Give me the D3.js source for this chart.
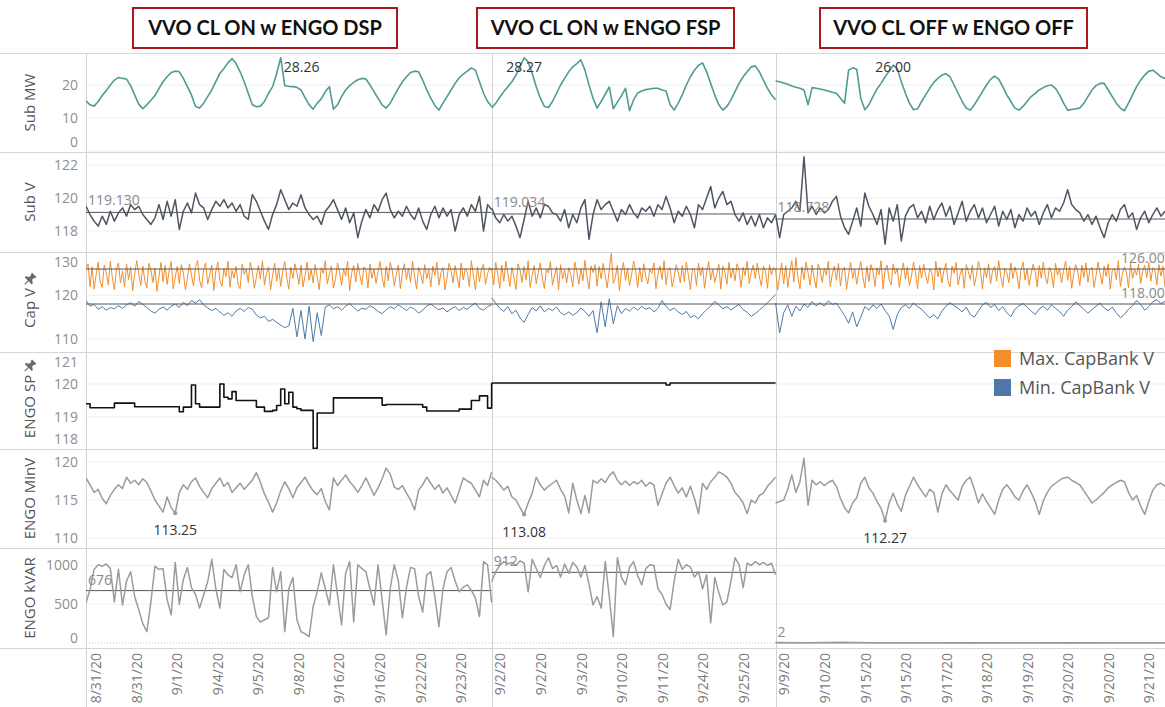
<!DOCTYPE html>
<html><head><meta charset="utf-8">
<script src="https://cdn.jsdelivr.net/npm/d3@7"></script>
<style>body{margin:0;background:#fff;}svg{display:block;font-family:"Open Sans",sans-serif;}</style>
</head><body><svg id="c" width="1165" height="707"></svg>
<script>
// ---------------- DATA ----------------
const sectionTitles = ["VVO CL ON w ENGO DSP", "VVO CL ON w ENGO FSP", "VVO CL OFF w ENGO OFF"];
const sectionLengths = [100, 70, 96];
const xTickLabels = [
  ["8/31/20","8/31/20","9/1/20","9/4/20","9/5/20","9/8/20","9/16/20","9/16/20","9/22/20","9/23/20"],
  ["9/2/20","9/2/20","9/3/20","9/10/20","9/11/20","9/24/20","9/25/20"],
  ["9/9/20","9/10/20","9/15/20","9/15/20","9/17/20","9/18/20","9/19/20","9/20/20","9/20/20","9/21/20"]
];
const xTickFirst = [2.5, 2.2, 2.2];
const xTickStep = 10;

const subMW = [
 [15.2,14,13.6,15,16.8,18.3,20,21.5,22.3,22,21.8,19.8,17,14.2,12.8,14,15.4,16.8,19,21,22.5,23.8,24.2,24,22,19.5,17,13.5,13,14.5,16.5,18.5,21,23.5,25,26.7,28,26.5,24,21,17.5,14,13.4,13.6,15,17.5,19.5,23.5,28.26,19.8,19.6,19.5,19.3,18.5,16.2,14,12.7,14.5,15.8,18,19.5,12.7,14,16.5,18.5,19.8,20.8,21.6,22,21.8,20,18,16,14,13,14.5,16.8,19,21,22.5,23.8,24.2,24,21.5,18.5,16,13.8,12.4,14.5,16.5,18.5,20.5,22.2,23.3,24.2,25.2,24.5,21,17.5,15,13.5],
 [13,14.5,16.3,18,19.5,21,23,25.5,28.27,27,23.5,19.5,16,13.5,13.2,15,17.5,20,22,24,25.5,26.5,27.6,24.5,20,16,13,15,17.2,19.4,12.8,14.8,16.8,19,12.2,15.5,17.6,18.2,18.6,18.8,19,19,18.5,18.2,14,12.4,14.5,17,20,22.5,24.5,26,26.7,24,20.5,17,14,12.4,13.5,15.5,18,20.5,22.5,24,25.5,25.8,24,21.5,19,17,15.5],
 [21.2,21,20.6,20.2,19.7,19.3,19,18.5,14,19.2,19,18.8,18.5,18.2,17.8,17.5,16,14.5,24.5,25.2,24.8,16,12.5,14,16.5,18.8,20.5,22.5,24.2,26,25,21,17.5,14.5,12.5,12.8,15,17,19,20.8,22,23,23.4,22.5,20,17.5,15,13,12.4,14,16,18,20,21.7,22.7,21.8,19.5,17,15,13,12.4,13.5,15,16.5,17.5,18.5,19.2,19.8,20,19,17,14.5,12.4,12.6,12.8,13,14.5,16.5,18.5,19.8,20.5,20.5,18.5,16.5,14.5,13,12.2,14.5,17,19.5,21.5,23,24.2,24.5,23.5,22.5,22]
];
const subV = [
 [119.5,119.0,118.6,118.3,118.9,118.4,119.2,118.6,119.1,119.4,118.9,119.6,119.3,119.5,119.0,118.7,118.4,118.8,119.6,118.7,119.8,118.9,119.9,118.1,119.2,119.7,119.1,120.3,119.6,119.4,118.7,119.3,119.8,119.5,119.9,119.4,119.7,119.2,119.6,118.9,118.7,120.2,119.8,119.2,118.6,118.1,119.0,119.6,120.5,119.9,119.3,119.7,119.5,120.2,119.4,119.0,118.7,118.9,118.4,119.2,119.5,119.9,119.3,118.7,119.4,118.5,119.1,117.6,118.6,119.3,118.8,119.6,119.2,119.9,120.3,119.3,118.8,119.2,118.9,119.5,119.0,118.7,119.4,118.6,118.1,119.0,119.5,118.8,119.4,118.9,119.3,118.0,119.0,119.4,118.9,119.6,119.2,120.1,118.0,119.6,119.3],
 [119.4,118.8,118.5,119.0,118.6,118.9,118.3,117.6,118.7,119.8,118.9,119.4,118.8,119.6,119.5,119.1,119.0,118.6,119.3,118.2,119.0,118.5,119.4,119.9,117.5,119.0,119.9,119.3,119.6,119.8,119.2,118.6,119.3,119.0,119.6,119.1,118.8,119.4,119.2,119.5,118.9,119.6,119.3,120.1,119.4,118.5,119.2,118.9,119.5,119.0,118.2,119.6,119.3,120.0,120.7,119.4,120.0,120.4,119.6,119.8,119.0,118.6,119.1,118.4,118.9,118.3,119.0,118.2,118.8,118.5,119.0],
 [119.0,117.6,119.0,119.2,119.4,119.8,119.2,122.5,119.1,119.5,119.0,119.4,119.1,119.3,119.8,120.1,118.9,118.2,117.8,118.6,119.4,118.3,120.3,119.5,119.0,118.4,119.3,117.2,119.4,118.6,119.6,117.4,118.9,119.4,119.6,118.8,119.2,118.5,119.5,118.7,119.3,119.7,118.9,119.5,118.4,119.1,119.8,118.6,119.2,119.6,118.8,119.4,118.5,119.0,119.5,118.3,119.2,118.7,119.3,118.2,119.0,118.6,119.4,118.9,119.2,118.4,119.1,119.6,118.8,119.4,119.2,119.7,120.5,119.6,119.3,119.1,118.6,119.0,118.4,118.9,118.2,117.6,118.5,119.0,118.6,119.3,119.6,118.8,119.1,118.1,118.8,119.2,118.5,119.0,119.4,118.9,119.2]
];
const subVRef = [119.130, 119.034, 118.728];

const capMax = [
 [125.8,127.2,122.0,126.5,121.4,124.8,127.6,123.0,121.8,126.9,125.2,122.4,127.8,124.0,121.2,126.0,127.4,122.8,125.5,121.9,
  127.1,123.6,126.4,121.0,124.9,127.9,125.0,122.2,126.7,123.4,121.6,127.3,125.8,122.9,126.2,120.9,124.4,127.5,123.1,126.8,
  122.5,125.6,127.7,121.5,124.2,126.6,122.7,127.0,125.1,121.3,123.8,127.2,124.6,122.1,126.3,128.0,123.5,121.7,125.9,127.4,
  122.6,124.7,126.9,121.1,125.4,127.6,123.3,122.0,126.1,124.3,127.8,121.8,125.7,123.9,126.6,122.4,121.5,127.1,124.8,126.0,
  122.9,127.5,125.3,121.6,124.1,126.8,123.7,127.9,122.3,125.0,126.5,121.2,124.6,127.3,123.2,126.2,122.0,125.6,127.7,124.0,
  121.4,126.4,123.8,127.2,125.1,122.5,126.9,121.9,124.5,127.6,123.4,125.9,122.8,127.0,124.2,121.3,126.3,125.0,127.9,122.6,
  124.9,126.7,121.7,123.6,127.4,125.5,122.2,126.1,124.4,127.8,121.0,125.2,126.8,123.0,127.3,124.7,122.4,126.5,125.8,121.6,
  127.1,123.9,126.0,122.7,125.4,127.7,124.1,121.8,126.6,123.3,127.5,125.7,122.1,124.8,126.9,121.5,125.3,127.2,123.6,126.2,
  122.9,127.8,124.3,121.4,126.4,125.0,122.6,127.0,123.8,125.9,121.9,126.7,124.6,127.6,122.3,125.1,126.3,121.2,124.0,127.3,
  125.6,122.8,126.8,124.2,121.7,127.4,123.5,126.1,125.2,122.0,127.9,124.5,121.3,126.5,123.1,125.8,127.1,122.5,124.9,126.4,125.5],
 [126.2,122.4,127.5,124.8,121.6,126.9,123.2,127.8,125.0,122.0,126.4,124.1,121.3,127.2,125.7,122.9,126.6,123.5,127.9,121.8,
  124.6,126.8,122.6,125.3,127.4,123.9,121.5,126.0,125.1,127.7,122.3,124.4,126.5,121.2,127.0,123.7,125.8,122.8,126.3,124.9,
  121.9,127.6,125.4,122.5,126.1,123.3,128.0,124.2,121.4,126.7,125.2,127.0,122.1,126.6,123.8,127.3,124.5,121.7,125.9,129.6,
  122.7,124.0,126.9,121.1,125.5,127.5,123.4,126.2,122.2,124.7,127.8,125.6,121.8,126.4,123.0,127.2,124.3,122.6,126.0,125.0,
  127.4,121.5,124.8,126.7,123.6,127.9,122.4,125.7,126.3,121.9,124.1,127.0,125.3,122.8,126.8,123.1,127.6,124.6,121.3,126.1,
  125.8,122.2,127.3,124.4,126.5,121.6,125.1,127.7,123.5,126.0,122.9,124.9,127.1,121.4,126.6,125.4,122.5,127.5,124.0,126.2,
  123.3,127.2,125.6,121.8,126.4,124.5,127.8,122.7,125.2,126.9,123.8,127.4,124.2,122.1,126.7,125.5,121.6,127.0,124.7,126.3,125.9],
 [126.0,121.2,124.5,127.4,122.6,126.8,121.8,125.3,127.9,123.0,128.6,124.1,121.5,126.5,123.6,127.6,125.2,122.3,126.9,124.0,
  121.6,127.1,125.7,122.9,126.2,124.6,127.8,121.9,125.0,126.7,123.4,127.3,122.1,125.6,126.4,121.3,124.8,127.5,123.8,126.0,
  122.5,125.4,127.7,124.3,121.7,126.6,123.1,127.0,125.5,122.0,126.3,124.7,127.9,121.4,125.8,126.9,123.5,122.4,127.2,124.9,
  126.1,121.8,125.2,127.4,123.7,126.5,122.2,124.4,127.6,125.1,121.5,126.8,123.9,127.1,124.6,122.7,126.0,125.3,121.2,127.8,
  124.2,126.4,122.8,125.7,127.3,123.3,121.9,126.7,125.0,127.5,122.4,124.8,126.2,121.6,127.0,125.5,123.6,126.9,122.1,124.5,
  127.7,125.9,121.4,126.3,124.0,127.2,122.6,125.6,126.6,123.2,127.9,124.4,121.8,126.1,125.2,122.9,127.4,123.8,126.5,124.7,
  121.5,125.8,127.6,123.5,126.0,122.3,124.9,127.1,125.4,121.9,126.8,123.9,127.5,124.2,122.6,126.4,125.1,121.7,127.3,124.6,
  126.2,122.8,125.7,127.8,123.4,126.6,121.6,124.8,127.0,125.3,122.2,126.9,124.1,127.4,123.0,125.9,126.4,121.8,124.5,127.6,
  125.0,122.5,126.7,124.3,127.2,121.4,125.6,126.1,123.6,127.9,122.0,124.9,126.5,125.2,121.7,127.3,123.8,126.0,124.6,127.1,
  122.7,125.5,126.8,124.0,127.5,123.2,126.3,125.8,122.4,127.0,124.4,126.6,121.9]
];
const capMin = [
 [118.8,117.5,117.9,116.8,117.4,116.6,117.2,116.9,117.6,117.0,117.8,118.3,117.5,118.6,117.9,117.2,116.4,115.9,116.8,117.3,116.6,117.5,118.0,117.2,118.4,117.6,118.8,118.2,119.0,117.8,117.1,116.5,117.0,116.2,115.4,116.0,115.2,116.4,117.0,116.3,117.2,116.8,115.5,114.8,115.2,114.0,114.5,113.8,113.2,112.6,113.0,117.0,110.5,116.5,110.0,117.5,109.4,116.0,110.8,117.3,117.8,116.9,117.4,116.6,117.5,118.1,117.2,116.4,117.0,116.8,117.6,117.1,116.3,115.8,116.7,117.4,116.9,117.8,117.2,116.5,117.3,116.8,115.9,116.6,117.5,118.0,117.3,116.7,117.1,116.2,116.9,117.4,116.5,117.2,116.8,117.6,118.2,117.0,116.6,117.4,117.8],
 [119.4,118.2,117.0,116.3,117.4,115.8,116.6,114.8,113.8,115.6,117.2,116.4,117.6,116.2,117.0,116.5,117.3,116.0,115.5,116.2,115.4,116.0,117.1,116.3,115.2,116.5,111.4,118.5,112.8,119.2,113.5,117.6,115.8,117.0,116.4,117.3,116.6,117.5,116.8,117.2,116.2,117.0,118.8,117.4,116.5,117.1,116.2,115.6,116.3,114.9,115.4,114.6,115.8,116.7,117.5,118.6,117.8,116.9,117.4,116.6,117.3,117.9,116.7,116.1,115.2,115.8,116.6,117.4,118.3,119.2,120.2],
 [118.2,111.4,116.0,117.8,115.2,117.5,116.4,118.0,117.2,118.6,117.6,118.3,117.5,118.7,117.9,118.2,116.8,115.4,113.6,116.2,112.8,115.0,117.4,116.6,117.8,117.0,118.0,116.5,115.3,112.2,115.6,117.2,117.8,117.0,118.2,117.4,116.8,115.8,114.8,115.6,114.6,116.4,117.5,118.3,117.6,117.0,116.2,117.3,115.6,115.0,116.4,117.8,118.4,117.2,117.9,116.5,117.4,116.0,115.1,116.8,117.6,118.1,117.3,116.4,115.6,116.9,117.5,116.6,117.8,117.0,116.3,115.2,116.6,117.4,118.5,117.6,116.8,115.9,116.7,117.5,118.2,117.1,116.5,117.3,116.0,114.9,115.6,116.8,117.6,118.8,117.9,116.6,117.4,118.5,119.0,118.1,118.6]
];
const capRef = [126, 118];
const legendItems = ["Max. CapBank V", "Min. CapBank V"];

const engoSP = [
 [119.4,119.28,119.28,119.28,119.28,119.28,119.28,119.42,119.42,119.42,119.42,119.42,119.31,119.31,119.31,119.31,119.31,119.31,119.31,119.31,119.31,119.31,119.31,119.16,119.3,119.3,119.97,119.4,119.3,119.3,119.3,119.3,119.3,120.0,119.6,119.55,119.77,119.5,119.5,119.5,119.5,119.5,119.3,119.3,119.17,119.17,119.2,119.35,119.85,119.4,119.75,119.3,119.25,119.2,119.2,119.2,118.05,119.12,119.12,119.12,119.12,119.58,119.58,119.58,119.58,119.58,119.58,119.58,119.58,119.58,119.58,119.58,119.58,119.36,119.38,119.38,119.38,119.38,119.38,119.38,119.38,119.38,119.38,119.3,119.18,119.18,119.18,119.18,119.18,119.18,119.18,119.18,119.24,119.24,119.24,119.5,119.5,119.64,119.64,119.27,120.03],
 [120.03,120.03,120.03,120.03,120.03,120.03,120.03,120.03,120.03,120.03,120.03,120.03,120.03,120.03,120.03,120.03,120.03,120.03,120.03,120.03,120.03,120.03,120.03,120.03,120.03,120.03,120.03,120.03,120.03,120.03,120.03,120.03,120.03,120.03,120.03,120.03,120.03,120.03,120.03,120.03,120.03,120.03,120.03,119.97,120.03,120.03,120.03,120.03,120.03,120.03,120.03,120.03,120.03,120.03,120.03,120.03,120.03,120.03,120.03,120.03,120.03,120.03,120.03,120.03,120.03,120.03,120.03,120.03,120.03,120.03,120.03],
 []
];
const engoMinV = [
 [117.9,117.0,116.0,116.4,115.2,114.5,115.6,116.4,117.0,116.5,118.0,117.2,117.6,117.0,117.8,117.3,116.2,115.0,114.2,113.4,115.4,114.0,113.25,116.0,117.0,116.4,117.4,117.9,116.8,116.0,115.3,116.5,117.2,117.9,116.8,117.3,116.0,116.6,117.2,116.4,117.0,117.6,118.6,117.3,115.8,114.7,113.4,114.6,116.2,117.4,116.5,115.3,116.6,117.3,118.0,117.0,116.2,115.7,116.5,114.8,113.7,117.9,116.9,117.6,118.3,117.4,116.8,116.0,116.9,117.9,116.8,115.6,116.6,117.8,119.2,118.4,116.7,116.4,116.9,115.9,115.0,113.7,116.3,117.0,118.0,117.2,116.4,117.0,115.9,116.6,115.6,114.6,116.2,117.9,117.5,117.2,116.3,115.4,117.6,116.9,118.7],
 [118.0,117.6,117.0,116.3,116.8,115.4,115.0,114.0,113.08,114.6,115.9,118.0,117.0,116.3,116.8,117.2,117.6,116.4,115.5,113.3,117.2,115.0,113.2,115.6,113.3,117.6,117.2,117.8,117.3,118.2,118.7,117.6,117.0,117.5,116.9,117.4,117.1,117.6,116.8,117.3,117.0,114.3,115.8,117.2,118.0,116.9,115.9,116.6,115.4,116.8,115.2,113.2,117.2,116.4,117.4,118.0,118.7,118.4,118.0,117.2,116.0,115.4,114.6,113.2,115.0,114.6,115.6,115.9,116.8,117.4,118.0],
 [114.6,114.8,115.0,116.4,118.3,116.0,117.4,120.5,114.3,117.6,117.0,117.4,116.9,117.3,117.6,116.8,115.2,114.0,113.3,114.6,115.3,117.2,118.0,116.6,115.9,114.8,113.9,112.27,114.6,115.9,114.5,113.5,115.6,116.8,118.0,117.0,116.2,115.4,116.4,116.0,113.4,115.8,117.0,116.2,115.6,115.0,116.8,117.6,118.0,116.4,114.6,115.8,114.8,114.0,113.1,115.0,116.4,117.0,116.3,115.4,115.0,116.2,117.0,116.0,114.8,113.1,114.9,116.0,116.8,117.2,117.6,117.9,118.0,117.6,117.3,117.0,116.2,115.4,114.6,115.0,115.5,116.0,116.6,117.0,117.3,117.6,117.4,116.0,115.0,115.6,114.2,113.1,114.8,116.3,117.0,117.2,116.8]
];
const engoKVAR = [
 [520,690,950,1010,990,1020,960,530,950,490,800,920,600,430,250,145,530,990,950,960,560,365,1040,500,820,975,715,625,450,620,790,1080,700,450,950,880,845,1010,660,880,1010,600,340,270,300,325,975,660,920,145,700,845,300,145,120,80,470,660,905,700,490,1010,620,235,900,1050,270,1010,960,920,700,490,1010,560,105,700,1010,800,325,715,975,960,600,400,880,920,600,210,700,920,975,800,660,720,750,680,580,340,1050,1010,520],
 [790,920,1000,1050,1020,1040,1000,1060,1030,660,1080,960,845,1000,1100,960,1000,850,1020,900,1040,980,850,1000,760,490,600,450,1050,600,80,1100,850,750,980,1050,870,750,960,1010,1000,700,625,500,430,800,1080,950,1010,980,850,920,700,880,260,845,650,490,530,800,1100,1010,715,1030,1000,1050,1010,1040,1000,1030,880],
 [6,4,9,3,2,2,1,2,2,1,2,2,2]
];
const kvarRef = [676, 912, 2];

// ---------------- LAYOUT ----------------
const W = 1165, H = 707, plotLeft = 86;
const svg = d3.select("#c");
svg.append("rect").attr("width", W).attr("height", H).attr("fill", "#fff");

const total = d3.sum(sectionLengths);
const starts = sectionLengths.map((d, i) => d3.sum(sectionLengths.slice(0, i)));
const x = d3.scaleLinear().domain([0, total]).range([plotLeft, W]);
const pts = (arr, s) => arr.map((v, i) => [starts[s] + i * sectionLengths[s] / Math.max(1, arr.length - 1), v]);

const rows = [
  {label: "Sub MW", top: 53, bottom: 152, domain: [-0.3, 29.7], ticks: [0, 10, 20]},
  {label: "Sub V", top: 152, bottom: 252, domain: [116.73, 122.79], ticks: [118, 120, 122]},
  {label: "Cap V", pin: true, top: 252, bottom: 352, domain: [107.03, 129.89], ticks: [110, 120, 130]},
  {label: "ENGO SP", pin: true, top: 352, bottom: 449, domain: [118.03, 120.97], ticks: [118, 119, 120, 121]},
  {label: "ENGO MinV", top: 449, bottom: 548, domain: [108.68, 121.71], ticks: [110, 115, 120]},
  {label: "ENGO kVAR", top: 548, bottom: 648, domain: [-65, 1226], ticks: [0, 500, 1000]}
];
rows.forEach((r, i) => {
  r.y = d3.scaleLinear().domain(r.domain).range([r.bottom, r.top]);
  svg.append("clipPath").attr("id", "clip" + i).append("rect")
    .attr("x", plotLeft).attr("y", r.top).attr("width", W - plotLeft).attr("height", r.bottom - r.top);
});

// gridlines
rows.forEach((r, ri) => {
  const g = svg.append("g").attr("clip-path", `url(#clip${ri})`);
  r.ticks.forEach(t => {
    const isZero = (ri === 5 && t === 0);
    g.append("line").attr("x1", plotLeft).attr("x2", W)
      .attr("y1", r.y(t)).attr("y2", r.y(t))
      .attr("stroke", isZero ? "#c8c8c8" : "#eeeeee").attr("stroke-width", 1)
      .attr("stroke-dasharray", isZero ? "1,2" : null);
  });
});

// row separators
const seps = [rows[0].top].concat(rows.map(r => r.bottom));
seps.forEach(yv => svg.append("line").attr("x1", 0).attr("x2", W).attr("y1", yv + 0.5).attr("y2", yv + 0.5)
  .attr("stroke", "#d6d6d6"));

// vertical dividers
[0, starts[1], starts[2]].forEach(s => svg.append("line")
  .attr("x1", Math.round(x(s)) + 0.5).attr("x2", Math.round(x(s)) + 0.5)
  .attr("y1", rows[0].top).attr("y2", H).attr("stroke", "#d2d2d2"));

// row labels & ticks
rows.forEach((r, ri) => {
  const cy = (r.top + r.bottom) / 2 + (r.pin ? 6 : 0);
  const tl = svg.append("text").attr("transform", `translate(30,${cy}) rotate(-90)`)
    .attr("text-anchor", "middle").attr("dy", "0.35em")
    .attr("font-size", 15).attr("fill", "#555").text(r.label);
  if (r.pin) {
    const len = tl.node().getComputedTextLength();
    const py = cy - len / 2 - 9;
    svg.append("path").attr("transform", `translate(30,${py}) rotate(45)`)
      .attr("d", "M-3,-6 h6 v2 h-1 v3 l3,2 v1.5 h-10 v-1.5 l3,-2 v-3 h-1 z M-0.6,2.5 h1.2 v5 h-1.2 z")
      .attr("fill", "#6a6a6a");
  }
  r.ticks.forEach(t => {
    const ty = Math.max(r.top + 10, Math.min(r.bottom - 10, r.y(t)));
    svg.append("text").attr("x", 78).attr("y", ty).attr("dy", "0.35em")
      .attr("text-anchor", "end").attr("font-size", 14).attr("fill", "#8e8e8e").text(t);
  });
});

// line helper
function drawLine(ri, arrs, color, width, curve) {
  const r = rows[ri];
  const g = svg.append("g").attr("clip-path", `url(#clip${ri})`);
  arrs.forEach((arr, s) => {
    if (!arr.length) return;
    const line = d3.line().x(d => x(d[0])).y(d => r.y(d[1])).curve(curve || d3.curveLinear);
    g.append("path").attr("d", line(pts(arr, s))).attr("fill", "none")
      .attr("stroke", color).attr("stroke-width", width).attr("stroke-linejoin", "round");
  });
  return g;
}

function sectionRef(ri, vals) {
  const r = rows[ri];
  vals.forEach((v, s) => {
    const x0 = x(starts[s]), x1 = x(starts[s] + sectionLengths[s]);
    svg.append("line").attr("x1", x0).attr("x2", x1).attr("y1", r.y(v)).attr("y2", r.y(v))
      .attr("stroke", "#555").attr("stroke-width", 1);
  });
}

// Sub MW
drawLine(0, subMW, "#4f9b94", 1.6);
subMW.forEach((arr, s) => {
  const i = d3.maxIndex(arr);
  const p = pts(arr, s)[i];
  svg.append("text").attr("x", x(p[0]) + (s === 0 ? 3 : 0)).attr("y", rows[0].top + 19)
    .attr("text-anchor", s === 0 ? "start" : "middle").attr("font-size", 14).attr("fill", "#333")
    .text(d3.format(".2f")(arr[i]));
});

// Sub V
sectionRef(1, subVRef);
drawLine(1, subV, "#4d5560", 1.5);
subVRef.forEach((v, s) => svg.append("text").attr("x", x(starts[s]) + 2).attr("y", rows[1].y(v) - 7)
  .attr("font-size", 14).attr("fill", "#8a8a8a").text(d3.format(".3f")(v)));

// Cap V
drawLine(2, capMax, "#f28e2b", 1);
drawLine(2, capMin, "#4e79a7", 1);
capRef.forEach(v => svg.append("line").attr("x1", plotLeft).attr("x2", W)
  .attr("y1", rows[2].y(v)).attr("y2", rows[2].y(v)).attr("stroke", "#555").attr("stroke-width", 1));
capRef.forEach(v => svg.append("text").attr("x", 1121).attr("y", rows[2].y(v) - 6)
  .attr("font-size", 14).attr("fill", "#8a8a8a").text(d3.format(".2f")(v)));

// ENGO SP
drawLine(3, engoSP, "#111", 1.6, d3.curveStepAfter);

// legend
const legColors = ["#f28e2b", "#4e79a7"];
legendItems.forEach((t, i) => {
  const ly = 350 + i * 29;
  svg.append("rect").attr("x", 994).attr("y", ly).attr("width", 17).attr("height", 17).attr("fill", legColors[i]);
  svg.append("text").attr("x", 1019).attr("y", ly + 9).attr("dy", "0.35em")
    .attr("font-size", 18).attr("fill", "#555").text(t);
});

// ENGO MinV
drawLine(4, engoMinV, "#9b9b9b", 1.5);
engoMinV.forEach((arr, s) => {
  const i = d3.minIndex(arr);
  const p = pts(arr, s)[i];
  svg.append("circle").attr("cx", x(p[0])).attr("cy", rows[4].y(p[1])).attr("r", 2).attr("fill", "#999");
  svg.append("text").attr("x", x(p[0])).attr("y", rows[4].y(p[1]) + 22)
    .attr("text-anchor", "middle").attr("font-size", 14).attr("fill", "#333")
    .text(d3.format(".2f")(arr[i]));
});

// ENGO kVAR
sectionRef(5, kvarRef);
drawLine(5, engoKVAR, "#9b9b9b", 1.5);
kvarRef.forEach((v, s) => svg.append("text").attr("x", x(starts[s]) + 2).attr("y", rows[5].y(v) - 6)
  .attr("font-size", 14).attr("fill", "#8a8a8a").text(d3.format("d")(v)));

// x tick labels
xTickLabels.forEach((labs, s) => {
  labs.forEach((t, k) => {
    const xv = x(starts[s] + xTickFirst[s] + k * xTickStep);
    svg.append("text").attr("transform", `translate(${xv},653) rotate(-90)`)
      .attr("text-anchor", "end").attr("dy", "0.35em").attr("font-size", 14).attr("fill", "#7a7a7a").text(t);
  });
});

// section title boxes
const boxes = [[133, 397], [477, 734], [820, 1087]];
sectionTitles.forEach((t, s) => {
  const [bx0, bx1] = boxes[s];
  svg.append("rect").attr("x", bx0).attr("y", 8).attr("width", bx1 - bx0).attr("height", 40)
    .attr("fill", "#fff").attr("stroke", "#a8181c").attr("stroke-width", 2);
  svg.append("text").attr("x", (bx0 + bx1) / 2).attr("y", 28).attr("dy", "0.35em")
    .attr("text-anchor", "middle").attr("font-family", "Lato, sans-serif").attr("font-weight", 700)
    .attr("font-size", 20).attr("fill", "#111").text(t);
});
</script></body></html>
